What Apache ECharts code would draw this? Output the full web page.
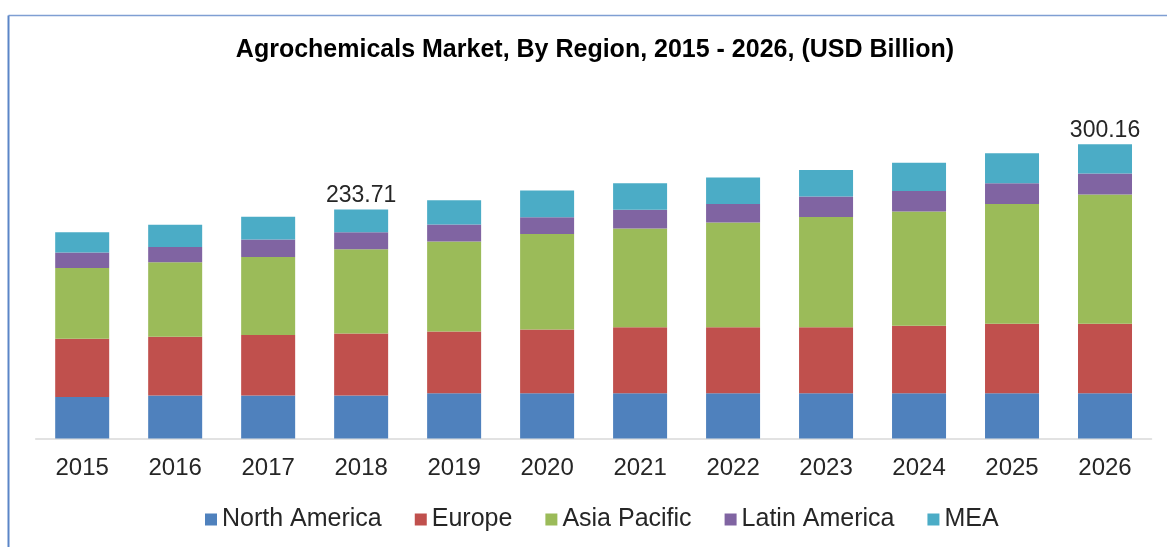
<!DOCTYPE html>
<html>
<head>
<meta charset="utf-8">
<script src="https://cdn.jsdelivr.net/npm/echarts@6/dist/echarts.min.js"></script>
<style>
html,body{margin:0;padding:0;background:#fff;}
#chart{width:1167px;height:547px;}
</style>
</head>
<body>
<div id="chart"></div>
<script>
const years = ['2015','2016','2017','2018','2019','2020','2021','2022','2023','2024','2025','2026'];
const northAmerica = [42.3, 44.0, 44.0, 44.0, 46.1, 46.1, 46.1, 46.1, 46.1, 46.1, 46.1, 46.1];
const europe       = [59.4, 59.7, 61.5, 63.2, 63.2, 65.2, 67.3, 67.3, 67.3, 68.9, 70.9, 70.9];
const asiaPacific  = [72.4, 76.1, 79.8, 85.9, 91.7, 97.5, 100.9, 107.0, 112.7, 116.6, 122.3, 131.9];
const latinAmerica = [15.7, 15.6, 17.7, 17.3, 17.3, 17.0, 19.0, 19.0, 20.8, 21.0, 21.1, 21.4];
const mea          = [20.7, 22.8, 23.4, 23.31, 24.8, 27.2, 27.2, 26.9, 27.1, 28.9, 30.6, 29.86];
const labelledYears = ['2018', '2026'];

const seriesNames = ['North America','Europe','Asia Pacific','Latin America','MEA'];
const seriesData = [northAmerica, europe, asiaPacific, latinAmerica, mea];
const colors = ['#4F81BD','#C0504D','#9BBB59','#8064A2','#4BACC6'];

function total(i){ return seriesData.reduce((s,a)=>s+a[i],0); }

const FONT = 'Liberation Sans, Arial, sans-serif';
const chart = echarts.init(document.getElementById('chart'));
const series = seriesNames.map((name, k) => ({
  name: name,
  type: 'bar',
  stack: 'total',
  barWidth: 54,
  itemStyle: {color: colors[k]},
  data: seriesData[k].map((v, i) => {
    if (k === 4 && labelledYears.includes(years[i])) {
      return {
        value: v,
        label: {
          show: true, position: 'top', distance: 2,
          fontFamily: FONT, fontSize: 23, color: '#262626',
          formatter: () => total(i).toFixed(2)
        }
      };
    }
    return v;
  })
}));

chart.setOption({
  animation: false,
  backgroundColor: '#ffffff',
  color: colors,
  title: {
    text: 'Agrochemicals Market, By Region, 2015 - 2026, (USD Billion)',
    left: 590, top: 33, textAlign: 'center',
    textStyle: {fontFamily: FONT, fontWeight: 'bold', fontSize: 25, color: '#000'}
  },
  legend: {
    data: seriesNames,
    left: 200, top: 502,
    itemWidth: 12, itemHeight: 12, itemGap: 33,
    icon: 'rect',
    textStyle: {fontFamily: FONT, fontSize: 25, color: '#262626'}
  },
  grid: {left: 35.7, right: 15.5, top: 95.5, bottom: 108.5, containLabel: false},
  xAxis: {
    type: 'category', data: years,
    axisLine: {show: true, lineStyle: {color: '#d9d9d9', width: 1.5}},
    axisTick: {show: false},
    axisLabel: {fontFamily: FONT, fontSize: 24, color: '#262626', margin: 18}
  },
  yAxis: {
    type: 'value', min: 0, max: 350, interval: 50,
    show: false, splitLine: {show: false}
  },
  graphic: [
    {type: 'line', shape: {x1: 8.5, y1: 15.5, x2: 1167, y2: 15.5}, style: {stroke: '#7f9fd3', lineWidth: 1.5}},
    {type: 'line', shape: {x1: 8.5, y1: 15.5, x2: 8.5, y2: 547}, style: {stroke: '#5b85c7', lineWidth: 2}}
  ],
  series: series
});
</script>
</body>
</html>
